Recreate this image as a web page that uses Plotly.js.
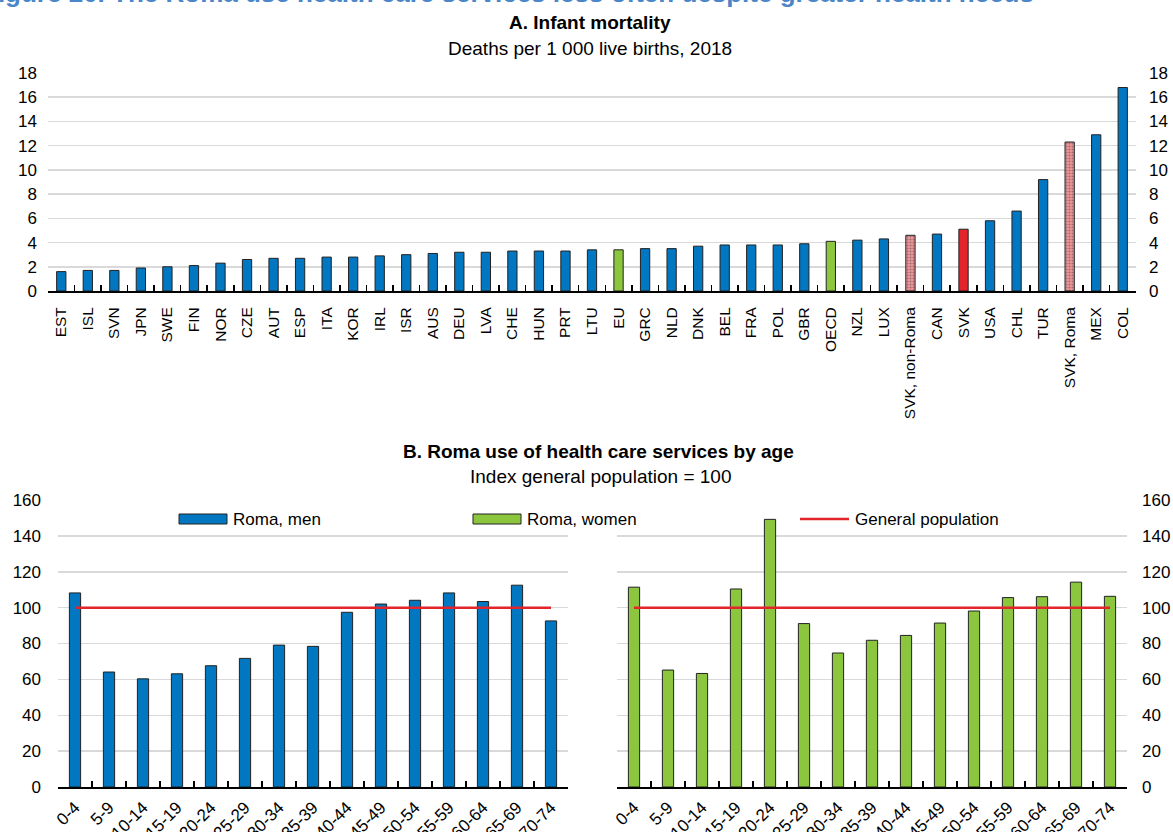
<!DOCTYPE html>
<html><head><meta charset="utf-8">
<script src="https://cdn.plot.ly/plotly-3.0.1.min.js"></script>
<style>html,body{margin:0;padding:0;background:#fff}#chart{width:1173px;height:832px}</style>
</head><body><div id="chart"></div>
<script>
// ---- Panel A data ----
const countries = ["EST","ISL","SVN","JPN","SWE","FIN","NOR","CZE","AUT","ESP","ITA","KOR","IRL","ISR","AUS","DEU","LVA","CHE","HUN","PRT","LTU","EU","GRC","NLD","DNK","BEL","FRA","POL","GBR","OECD","NZL","LUX","SVK, non-Roma","CAN","SVK","USA","CHL","TUR","SVK, Roma","MEX","COL"];
const infantMortality = [1.6,1.7,1.7,1.9,2.0,2.1,2.3,2.6,2.7,2.7,2.8,2.8,2.9,3.0,3.1,3.2,3.2,3.3,3.3,3.3,3.4,3.4,3.5,3.5,3.7,3.8,3.8,3.8,3.9,4.1,4.2,4.3,4.6,4.7,5.1,5.8,6.6,9.2,12.3,12.9,16.8];
const aggregates = ["EU","OECD"];
const slovakia = ["SVK"];
const slovakSplit = ["SVK, non-Roma","SVK, Roma"];

// ---- Panel B data ----
const ageGroups = ["0-4","5-9","10-14","15-19","20-24","25-29","30-34","35-39","40-44","45-49","50-54","55-59","60-64","65-69","70-74"];
const romaMen   = [108.2,64.1,60.3,63.1,67.6,71.7,79.1,78.4,97.4,102.0,104.1,108.2,103.4,112.5,92.6];
const romaWomen = [111.4,65.2,63.3,110.4,149.2,91.1,74.7,81.8,84.5,91.4,98.1,105.6,106.1,114.2,106.3];
const generalPopulation = ageGroups.map(() => 100);

// ---- Styles ----
const BLUE = "#0077c0", GREEN = "#8cc63f", RED = "#e3242b";
const FONT = "Liberation Sans Narrow, Arial Narrow, Liberation Sans, Arial, sans-serif";

const colA = countries.map(c => aggregates.includes(c) ? GREEN : slovakia.includes(c) ? RED : slovakSplit.includes(c) ? "#f3969b" : BLUE);
const patShape = countries.map(c => slovakSplit.includes(c) ? "." : "");

const traces = [
  { type:"bar", x:countries, y:infantMortality, xaxis:"x", yaxis:"y", width:0.35,
    marker:{ color:colA, line:{color:"#222", width:1},
      pattern:{ shape:patShape, fgcolor:"#ffffff", size:3, solidity:0.4, fillmode:"overlay" } },
    showlegend:false, hoverinfo:"x+y" },
  { type:"bar", x:ageGroups, y:romaMen, xaxis:"x2", yaxis:"y2", width:0.33,
    marker:{ color:BLUE, line:{color:"#222", width:1} }, showlegend:false },
  { type:"scatter", mode:"lines", x:ageGroups, y:generalPopulation, xaxis:"x2", yaxis:"y2",
    line:{ color:RED, width:2.5 }, showlegend:false },
  { type:"bar", x:ageGroups, y:romaWomen, xaxis:"x3", yaxis:"y3", width:0.33,
    marker:{ color:GREEN, line:{color:"#222", width:1} }, showlegend:false },
  { type:"scatter", mode:"lines", x:ageGroups, y:generalPopulation, xaxis:"x3", yaxis:"y3",
    line:{ color:RED, width:2.5 }, showlegend:false }
];

const W = 1173, H = 832;
const px = v => v / W, py = v => 1 - v / H;

const gridY = { showgrid:true, gridcolor:"#d9d9d9", gridwidth:1.5, zeroline:false, showline:false, ticks:"",
  tickfont:{ family:FONT, size:17, color:"#000" }, fixedrange:true };
const catX = { type:"category", showline:true, linecolor:"#000", linewidth:2, ticks:"inside", tickson:"boundaries",
  ticklen:6, tickwidth:1.5, tickcolor:"#000", showgrid:false, zeroline:false,
  tickfont:{ family:FONT, size:15.5, color:"#000" }, fixedrange:true };

const layout = {
  width:W, height:H, margin:{l:0,r:0,t:0,b:0}, paper_bgcolor:"#fff", plot_bgcolor:"rgba(0,0,0,0)",
  barmode:"group", bargap:0, font:{ family:FONT, color:"#000" },
  xaxis: Object.assign({}, catX, { domain:[px(48), px(1136)], anchor:"y", range:[-0.5, countries.length-0.5], tickangle:-90, ticklabelstandoff:8 }),
  yaxis: Object.assign({}, gridY, { domain:[py(291), py(73)], anchor:"x", range:[0,18], dtick:2, ticklabelstandoff:10 }),
  yaxis4: Object.assign({}, gridY, { overlaying:"y", side:"right", anchor:"x", range:[0,18], dtick:2, showgrid:false, ticklabelstandoff:12 }),
  xaxis2: Object.assign({}, catX, { domain:[px(58), px(568)], anchor:"y2", range:[-0.5, ageGroups.length-0.5], tickangle:-45, ticklabelstandoff:2, tickfont:{ family:FONT, size:17, color:"#000" } }),
  yaxis2: Object.assign({}, gridY, { domain:[py(787), py(500)], anchor:"x2", range:[0,160], dtick:20, ticklabelstandoff:16 }),
  xaxis3: Object.assign({}, catX, { domain:[px(617), px(1127)], anchor:"y3", range:[-0.5, ageGroups.length-0.5], tickangle:-45, ticklabelstandoff:2, tickfont:{ family:FONT, size:17, color:"#000" } }),
  yaxis3: Object.assign({}, gridY, { domain:[py(787), py(500)], anchor:"x3", side:"right", range:[0,160], dtick:20, ticklabelstandoff:14 }),
  annotations: [
    { text:"<b>Figure 20. The Roma use health care services less often despite greater health needs</b>", xref:"paper", yref:"paper",
      x:px(-20), xanchor:"left", y:py(-7), yanchor:"middle", showarrow:false,
      font:{ family:"Liberation Sans, Arial, sans-serif", size:26, color:"#4a86c8" } },
    { text:"<b>A. Infant mortality</b>", xref:"paper", yref:"paper", x:px(590), y:py(22), xanchor:"center", yanchor:"middle", showarrow:false, font:{ family:FONT, size:19 } },
    { text:"Deaths per 1 000 live births, 2018", xref:"paper", yref:"paper", x:px(590), y:py(48), xanchor:"center", yanchor:"middle", showarrow:false, font:{ family:FONT, size:19 } },
    { text:"<b>B. Roma use of health care services by age</b>", xref:"paper", yref:"paper", x:px(598), y:py(451), xanchor:"center", yanchor:"middle", showarrow:false, font:{ family:FONT, size:19 } },
    { text:"Index general population = 100", xref:"paper", yref:"paper", x:px(600), y:py(476), xanchor:"center", yanchor:"middle", showarrow:false, font:{ family:FONT, size:19 } },
    { text:"Roma, men", xref:"paper", yref:"paper", x:px(231), y:py(519), xanchor:"left", yanchor:"middle", showarrow:false, font:{ family:FONT, size:17 } },
    { text:"Roma, women", xref:"paper", yref:"paper", x:px(525), y:py(519), xanchor:"left", yanchor:"middle", showarrow:false, font:{ family:FONT, size:17 } },
    { text:"General population", xref:"paper", yref:"paper", x:px(853), y:py(519), xanchor:"left", yanchor:"middle", showarrow:false, font:{ family:FONT, size:17 } }
  ],
  shapes: [
    { type:"rect", xref:"paper", yref:"paper", x0:px(179), x1:px(227), y0:py(524), y1:py(514), fillcolor:BLUE, line:{color:"#222", width:1} },
    { type:"rect", xref:"paper", yref:"paper", x0:px(473), x1:px(521), y0:py(524), y1:py(514), fillcolor:GREEN, line:{color:"#222", width:1} },
    { type:"line", xref:"paper", yref:"paper", x0:px(800), x1:px(849), y0:py(519), y1:py(519), line:{color:RED, width:2.5} }
  ]
};

// invisible helper trace to activate yaxis4 (right-hand labels of panel A)
traces.push({ type:"scatter", x:[countries[0]], y:[0], xaxis:"x", yaxis:"y4", mode:"markers", marker:{opacity:0}, showlegend:false, hoverinfo:"skip" });

Plotly.newPlot("chart", traces, layout, { displayModeBar:false, staticPlot:true });
</script>
</body></html>
